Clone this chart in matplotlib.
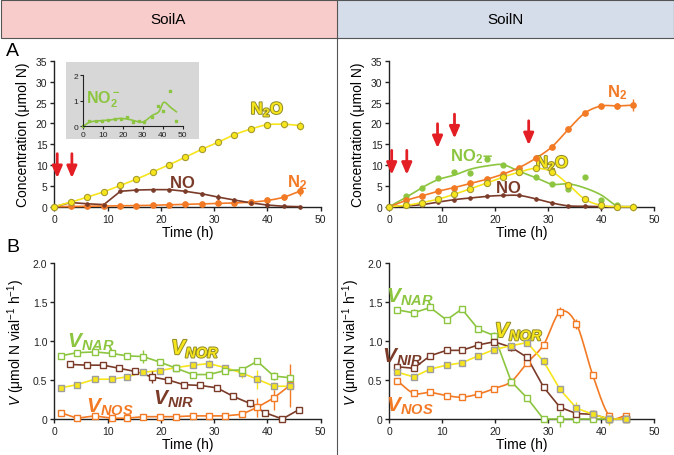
import numpy as np
import matplotlib
matplotlib.use("Agg")
import matplotlib.pyplot as plt
import matplotlib.patheffects as pe
from matplotlib.patches import Rectangle

plt.rcParams['font.family'] = ['Liberation Sans', 'DejaVu Sans']
plt.rcParams['mathtext.fontset'] = 'custom'
plt.rcParams['mathtext.rm'] = 'Liberation Sans'
plt.rcParams['mathtext.it'] = 'Liberation Sans:italic'
plt.rcParams['mathtext.bf'] = 'Liberation Sans:bold'
plt.rcParams['mathtext.bfit'] = 'Liberation Sans:italic:bold'

YEL = '#f7e51b'
YEL_EDGE = '#a59a30'
BRN = '#7b3b29'
ORG = '#f37a25'
GRN = '#8cc53f'
RED = '#e31e24'

# ---- data: panel A, SoilA ----
tA = [0, 3.1, 6.2, 9.3, 12.4, 15.4, 18.6, 21.6, 24.6, 27.7, 30.8, 33.8, 37, 40, 43.1, 46.2]
A_n2o = [0, 1.1, 2.3, 3.6, 5.1, 6.6, 8.4, 10.1, 11.9, 13.8, 15.5, 17.3, 18.7, 19.7, 19.8, 19.5]
A_n2o_err = [0, 0, 0, 0, 0, 0, 0, 0, 0, 0, 0, 0, 0, 0, 0.9, 1.1]
A_no = [0, 1.0, 0.7, 0.5, 3.7, 4.0, 4.1, 4.1, 3.7, 3.1, 2.3, 1.6, 0.9, 0.4, 0.1, 0.0]
A_no_err = [0, 0, 0, 0, 0, 0, 0, 0, 0.3, 0.5, 0.7, 0.4, 0, 0, 0, 0]
A_n2 = [0, 0.05, 0.1, 0.15, 0.2, 0.25, 0.35, 0.45, 0.55, 0.65, 0.8, 0.9, 1.1, 1.5, 2.3, 3.8]
A_n2_err = [0, 0, 0, 0, 0, 0, 0, 0, 0, 0, 0, 0, 0, 0, 0.6, 1.2]
A_arrows = [0.55, 3.3]

# inset NO2- (SoilA)
t_ins = [0, 3.2, 6.4, 9.5, 12.6, 15.8, 19.2, 21.9, 25.3, 28, 30.6, 34.4, 37.8, 40.3, 43.6, 46.7]
ins_pts = [0.02, 0.19, 0.22, 0.21, 0.24, 0.27, 0.29, 0.38, 0.16, 0.2, 0.16, 0.35, 0.78, 0.61, 1.39, 0.19]
t_ins_line = [0, 3.7, 8.7, 13.7, 18.7, 23.7, 28.8, 31.3, 34.6, 38, 40.5, 43.8, 46.8]
ins_line = [0, 0.17, 0.22, 0.25, 0.31, 0.26, 0.16, 0.22, 0.42, 0.57, 0.94, 0.75, 0.57]

# ---- data: panel A, SoilN ----
tN = [0, 3.1, 6.2, 9.2, 12.3, 15.3, 18.4, 21.4, 24.5, 27.6, 30.7, 33.8, 36.9, 40, 43, 46]
N_n2 = [0, 1.5, 2.6, 3.7, 4.6, 5.6, 6.6, 7.8, 9.4, 11.6, 14.4, 18.6, 22.5, 24.2, 24.2, 24.4]
N_n2_err = [0, 0, 0, 0, 0, 0, 0, 0, 0, 0, 0, 0, 0, 0, 0.8, 1.5]
N_n2o = [0, 0.3, 1.0, 1.8, 3.0, 4.3, 5.7, 7.1, 8.3, 9.2, 8.4, 5.3, 1.8, 0.3, 0.0, 0.0]
N_n2o_err = [0, 0, 0, 0, 0, 0, 0, 0, 0, 0, 0, 0, 0, 0, 0, 1.0]
N_no = [0, 0.2, 0.5, 1.1, 1.7, 2.1, 2.5, 2.7, 2.7, 1.9, 0.9, 0.2, 0.1, 0, 0, 0]
N_no_err = [0, 0, 0, 0, 0, 0, 0, 0, 0, 0.4, 0.4, 0.3, 0, 0, 0, 0]
N_no2_pts = [0, 2.5, 4.6, 6.8, 8.3, 8.2, 11.5, 10.1, 8.4, 7.2, 5.4, 4.3, 7.2, 1.5, 0.3, 0.0]
N_no2_line = [0, 2.2, 4.6, 6.5, 7.6, 9.0, 9.8, 10.1, 8.5, 7.0, 5.4, 5.5, 4.5, 2.8, 0.2, 0.0]
N_arrows = [0.45, 3.3, 9.1, 12.3, 26.3]
N_arrow_top = [14.2, 14.2, 20.6, 22.9, 21.3]

# ---- data: panel B, SoilA ----
tBA = [1.25, 4.25, 7.6, 10.8, 13.6, 16.7, 19.8, 22.9, 26, 29, 32, 35.2, 38.1, 41.2, 44.2]
tBA_nir = [2.9, 6.1, 9.2, 12.2, 15.1, 18.3, 21.4, 24.3, 27.4, 30.5, 33.6, 36.7, 39.6, 42.8, 45.9]
BA_nar = [0.81, 0.85, 0.86, 0.84, 0.81, 0.80, 0.73, 0.65, 0.57, 0.57, 0.62, 0.63, 0.74, 0.55, 0.53]
BA_nar_err = [0, 0, 0.03, 0, 0, 0.08, 0, 0.04, 0, 0, 0, 0, 0.03, 0.05, 0]
BA_nor = [0.40, 0.44, 0.51, 0.51, 0.54, 0.60, 0.62, 0.66, 0.69, 0.71, 0.66, 0.59, 0.51, 0.42, 0.42]
BA_nor_err = [0, 0, 0, 0, 0, 0.04, 0, 0.04, 0, 0.05, 0, 0.06, 0.12, 0.05, 0]
BA_nir = [0.70, 0.69, 0.69, 0.65, 0.61, 0.54, 0.50, 0.44, 0.43, 0.40, 0.29, 0.20, 0.08, 0.0, 0.12]
BA_nir_err = [0, 0, 0.04, 0, 0, 0.08, 0, 0.04, 0, 0, 0, 0.05, 0, 0, 0]
BA_nos = [0.08, 0.01, 0.04, 0.01, 0.01, 0.03, 0.03, 0.03, 0.04, 0.04, 0.04, 0.06, 0.15, 0.27, 0.43]
BA_nos_err = [0, 0, 0, 0, 0, 0, 0, 0, 0, 0, 0, 0, 0.12, 0.15, 0.27]

# ---- data: panel B, SoilN ----
tBN = [1.5, 4.6, 7.7, 10.8, 13.7, 16.8, 19.8, 23, 26, 29.1, 32.2, 35.3, 38.4, 41.5, 44.6]
BN_nar = [1.40, 1.36, 1.43, 1.27, 1.41, 1.15, 1.07, 0.48, 0.27, 0.0, 0.0, 0.0, 0.0, 0.0, 0.0]
BN_nar_err = [0, 0.05, 0, 0, 0, 0, 0.04, 0.04, 0, 0, 0.1, 0.05, 0, 0.05, 0]
BN_nor = [0.60, 0.54, 0.64, 0.69, 0.72, 0.81, 0.89, 0.94, 0.98, 0.74, 0.38, 0.14, 0.06, 0.0, 0.0]
BN_nor_err = [0, 0, 0, 0, 0, 0.03, 0, 0, 0, 0.05, 0, 0.08, 0.06, 0.08, 0]
BN_nir = [0.67, 0.65, 0.81, 0.88, 0.88, 0.95, 0.99, 0.92, 0.79, 0.41, 0.15, 0.07, 0.06, 0.0, 0.0]
BN_nir_err = [0, 0, 0.03, 0, 0.04, 0.05, 0, 0.05, 0, 0, 0, 0, 0, 0, 0]
BN_nos = [0.49, 0.33, 0.34, 0.30, 0.28, 0.32, 0.39, 0.48, 0.72, 0.95, 1.37, 1.22, 0.56, 0.04, 0.04]
BN_nos_err = [0, 0, 0, 0, 0, 0, 0, 0, 0, 0, 0.07, 0.06, 0, 0.05, 0]


def smooth(x, y, n=16):
    # Catmull-Rom curve through the measured points (drawing only)
    x = np.asarray(x, float)
    y = np.asarray(y, float)
    px = np.concatenate([[2 * x[0] - x[1]], x, [2 * x[-1] - x[-2]]])
    py = np.concatenate([[2 * y[0] - y[1]], y, [2 * y[-1] - y[-2]]])
    s = np.linspace(0, 1, n, endpoint=False)
    xs, ys = [], []
    for i in range(1, len(px) - 2):
        for p, out in ((px, xs), (py, ys)):
            p0, p1, p2, p3 = p[i - 1], p[i], p[i + 1], p[i + 2]
            out.extend(0.5 * (2 * p1 + (-p0 + p2) * s + (2 * p0 - 5 * p1 + 4 * p2 - p3) * s ** 2
                              + (-p0 + 3 * p1 - 3 * p2 + p3) * s ** 3))
    xs.append(x[-1])
    ys.append(y[-1])
    return np.array(xs), np.maximum(np.array(ys), 0)


def style_axes(ax, ymax, ystep, yfmt, ylabel):
    ax.set_xlim(0, 50)
    ax.set_ylim(0, ymax)
    ax.set_xticks(range(0, 51, 10))
    ticks = np.arange(0, ymax + 1e-9, ystep)
    ax.set_yticks(ticks)
    ax.set_yticklabels(['0'] + [yfmt.format(v) for v in ticks[1:]])
    for s in ('top', 'right'):
        ax.spines[s].set_visible(False)
    for s in ('left', 'bottom'):
        ax.spines[s].set_linewidth(1.0)
        ax.spines[s].set_color('#222222')
    ax.tick_params(direction='out', length=3, width=1, labelsize=7.5, pad=2, colors='#222222')
    ax.set_xlabel('Time (h)', fontsize=10, labelpad=1)
    ax.set_ylabel(ylabel, fontsize=10, labelpad=4)


def conc_series(ax, t, y, err, color, mk, ms, mfc, mec, smooth_line=True):
    if smooth_line:
        sx, sy = smooth(t, y)
        ax.plot(sx, sy, color=color, lw=1.2, clip_on=False, zorder=3)
    else:
        ax.plot(t, y, color=color, lw=1.2, clip_on=False, zorder=3)
    ax.errorbar(t, y, yerr=err, fmt=mk, ms=ms, mfc=mfc, mec=mec, mew=0.8,
                ecolor=color, elinewidth=1.0, capsize=0, clip_on=False, zorder=4)


def rate_series(ax, t, y, err, color, face, edge, smooth_line=False):
    if smooth_line:
        sx, sy = smooth(t, y)
        ax.plot(sx, sy, color=color, lw=1.2, clip_on=False, zorder=3)
    else:
        ax.plot(t, y, color=color, lw=1.2, clip_on=False, zorder=3)
    ax.errorbar(t, y, yerr=err, fmt='s', ms=5, mfc=face, mec=edge, mew=1.0,
                ecolor=color, elinewidth=1.0, capsize=0, clip_on=False, zorder=4)


def arrow(ax, x, ytop, ylen=7.2):
    ax.annotate('', xy=(x, ytop - ylen), xytext=(x, ytop),
                arrowprops=dict(arrowstyle='-|>,head_length=0.7,head_width=0.3', color=RED, lw=2.0),
                zorder=6)


yel_fx = [pe.Stroke(linewidth=1.4, foreground='#8f8a2a'), pe.Normal()]

fig = plt.figure(figsize=(6.74, 4.56), dpi=100)

# header boxes
fig.add_artist(Rectangle((0.001, 1 - 39 / 456), 337 / 674, 38.5 / 456, transform=fig.transFigure,
                         facecolor='#f9cccc', edgecolor='#555555', lw=0.8))
fig.add_artist(Rectangle((337 / 674, 1 - 39 / 456), 336.5 / 674, 38.5 / 456, transform=fig.transFigure,
                         facecolor='#d5dcea', edgecolor='#555555', lw=0.8))
fig.add_artist(plt.Line2D([337 / 674, 337 / 674], [0, 1 - 39 / 456], transform=fig.transFigure,
                          color='#555555', lw=0.8))
fig.text(168 / 674, 1 - 20 / 456, 'SoilA', ha='center', va='center', fontsize=11)
fig.text(505 / 674, 1 - 20 / 456, 'SoilN', ha='center', va='center', fontsize=11)
fig.text(6 / 674, 1 - 52 / 456, 'A', ha='left', va='center', fontsize=14)
fig.text(6 / 674, 1 - 248 / 456, 'B', ha='left', va='center', fontsize=14)

# ---------- A: SoilA ----------
ax1 = fig.add_axes([54.3 / 674, 1 - 207.7 / 456, 266.4 / 674, 145.7 / 456])
style_axes(ax1, 35, 5, '{:.0f}', 'Concentration (μmol N)')
conc_series(ax1, tA, A_n2, A_n2_err, ORG, 'o', 4, ORG, ORG)
conc_series(ax1, tA, A_no, A_no_err, BRN, 'o', 2.5, BRN, BRN, smooth_line=False)
conc_series(ax1, tA, A_n2o, A_n2o_err, YEL, 'o', 4.5, YEL, YEL_EDGE)
for x in A_arrows:
    arrow(ax1, x, 13.4)
ax1.text(40, 22.3, r'$\mathbf{N_2O}$', color=YEL, fontsize=12, ha='center', path_effects=yel_fx)
ax1.text(24, 4.8, r'$\mathbf{NO}$', color=BRN, fontsize=12, ha='center')
ax1.text(45.5, 4.8, r'$\mathbf{N_2}$', color=ORG, fontsize=12, ha='center')

# inset
fig.add_artist(Rectangle((65.7 / 674, 1 - 140 / 456), 133.6 / 674, 77.3 / 456,
                         transform=fig.transFigure, facecolor='#d7d7d7', edgecolor='none', zorder=2))
axi = fig.add_axes([83 / 674, 1 - 127.3 / 456, 99.7 / 674, 51 / 456])
axi.set_zorder(5)
axi.patch.set_visible(False)
axi.set_xlim(0, 50)
axi.set_ylim(0, 2)
axi.set_xticks(range(0, 51, 10))
axi.set_yticks([0, 1, 2])
for s in ('top', 'right'):
    axi.spines[s].set_visible(False)
for s in ('left', 'bottom'):
    axi.spines[s].set_color('#222222')
axi.tick_params(direction='out', length=2, width=0.8, labelsize=6, pad=1.5, colors='#222222')
sx, sy = smooth(t_ins_line, ins_line)
axi.plot(sx, sy, color=GRN, lw=1.2, clip_on=False)
axi.plot(t_ins, ins_pts, 's', ms=1.5, color=GRN, clip_on=False)
axi.text(10, 0.95, r'$\mathbf{NO_2^-}$', color=GRN, fontsize=11.5, ha='center')

# ---------- A: SoilN ----------
ax2 = fig.add_axes([389.3 / 674, 1 - 207.7 / 456, 265 / 674, 145.7 / 456])
style_axes(ax2, 35, 5, '{:.0f}', 'Concentration (μmol N)')
sx, sy = smooth(tN, N_no2_line)
ax2.plot(sx, sy, color=GRN, lw=1.2, clip_on=False, zorder=3)
ax2.plot(tN, N_no2_pts, 'o', ms=3.5, color=GRN, clip_on=False, zorder=4)
conc_series(ax2, tN, N_n2, N_n2_err, ORG, 'o', 4, ORG, ORG)
conc_series(ax2, tN, N_no, N_no_err, BRN, 'o', 2.5, BRN, BRN)
conc_series(ax2, tN, N_n2o, N_n2o_err, YEL, 'o', 4.5, YEL, YEL_EDGE)
for x, yt in zip(N_arrows, N_arrow_top):
    arrow(ax2, x, yt)
ax2.text(15.5, 11.2, r'$\mathbf{NO_2}$–', color=GRN, fontsize=12, fontweight='bold', ha='center')
ax2.text(30.8, 9.4, r'$\mathbf{N_2O}$', color=YEL, fontsize=12, ha='center', path_effects=yel_fx)
ax2.text(22.5, 3.6, r'$\mathbf{NO}$', color=BRN, fontsize=12, ha='center')
ax2.text(43, 26.5, r'$\mathbf{N_2}$', color=ORG, fontsize=12, ha='center')

# ---------- B: SoilA ----------
vlabel = r'$\mathit{V}$ (μmol N vial$^{-1}$ h$^{-1}$)'
ax3 = fig.add_axes([54.3 / 674, 1 - 420 / 456, 266.4 / 674, 156 / 456])
style_axes(ax3, 2.0, 0.5, '{:.1f}', vlabel)
rate_series(ax3, tBA, BA_nos, BA_nos_err, ORG, 'white', ORG)
rate_series(ax3, tBA_nir, BA_nir, BA_nir_err, BRN, 'white', BRN)
rate_series(ax3, tBA, BA_nor, BA_nor_err, YEL, YEL, '#9e9e9e')
rate_series(ax3, tBA, BA_nar, BA_nar_err, GRN, 'white', GRN)
ax3.text(6.8, 0.93, r'$\mathbfit{V}_{\mathbfit{NAR}}$', color=GRN, fontsize=15, ha='center')
ax3.text(26.5, 0.83, r'$\mathbfit{V}_{\mathbfit{NOR}}$', color=YEL, fontsize=15, ha='center',
         path_effects=yel_fx)
ax3.text(22.3, 0.2, r'$\mathbfit{V}_{\mathbfit{NIR}}$', color=BRN, fontsize=15, ha='center')
ax3.text(10.5, 0.09, r'$\mathbfit{V}_{\mathbfit{NOS}}$', color=ORG, fontsize=15, ha='center')

# ---------- B: SoilN ----------
ax4 = fig.add_axes([389.3 / 674, 1 - 420 / 456, 265 / 674, 156 / 456])
style_axes(ax4, 2.0, 0.5, '{:.1f}', vlabel)
rate_series(ax4, tBN, BN_nos, BN_nos_err, ORG, 'white', ORG, smooth_line=True)
rate_series(ax4, tBN, BN_nar, BN_nar_err, GRN, 'white', GRN)
rate_series(ax4, tBN, BN_nir, BN_nir_err, BRN, 'white', BRN)
rate_series(ax4, tBN, BN_nor, BN_nor_err, YEL, YEL, '#9e9e9e')
ax4.text(3.8, 1.5, r'$\mathbfit{V}_{\mathbfit{NAR}}$', color=GRN, fontsize=15, ha='center')
ax4.text(24.5, 1.05, r'$\mathbfit{V}_{\mathbfit{NOR}}$', color=YEL, fontsize=15, ha='center',
         path_effects=yel_fx)
ax4.text(2.5, 0.74, r'$\mathbfit{V}_{\mathbfit{NIR}}$', color=BRN, fontsize=15, ha='center')
ax4.text(3.8, 0.1, r'$\mathbfit{V}_{\mathbfit{NOS}}$', color=ORG, fontsize=15, ha='center')

fig.savefig('out.png', dpi=100)
